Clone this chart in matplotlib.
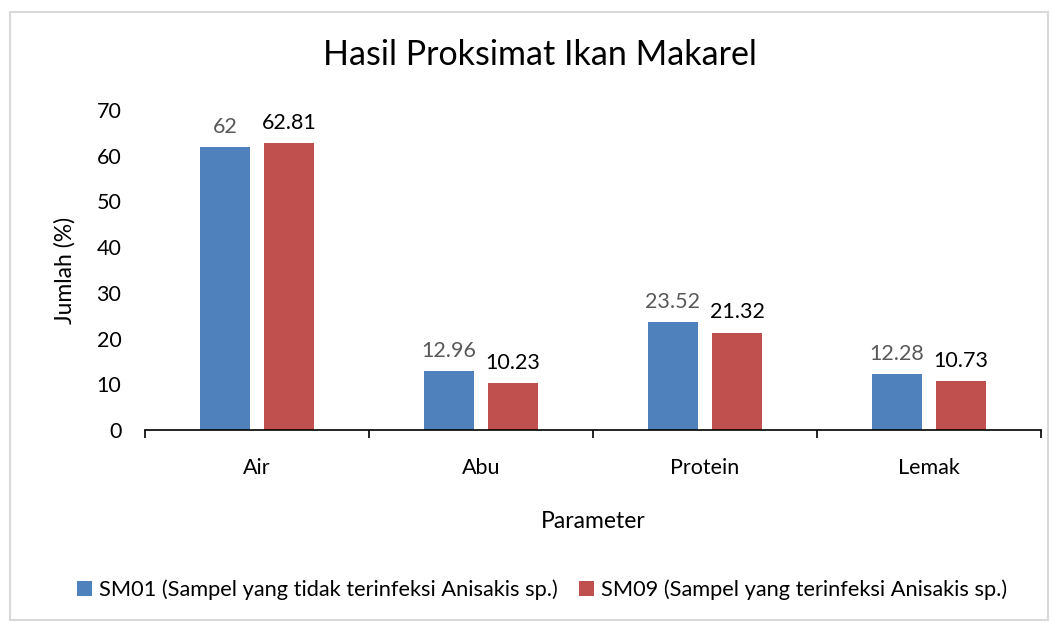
import numpy as np
import matplotlib.pyplot as plt
from matplotlib.patches import Rectangle

plt.rcParams['font.family'] = ['Lato', 'DejaVu Sans']

kategori = ['Air', 'Abu', 'Protein', 'Lemak']
sm01 = [62, 12.96, 23.52, 12.28]
sm09 = [62.81, 10.23, 21.32, 10.73]
label01 = ['62', '12.96', '23.52', '12.28']
label09 = ['62.81', '10.23', '21.32', '10.73']

fig = plt.figure(figsize=(10.53, 6.23), dpi=100)
fig.patches.append(Rectangle((10 / 1053, 3 / 623), 1038 / 1053, 608 / 623,
                             transform=fig.transFigure, fill=False,
                             edgecolor='#d9d9d9', linewidth=1.5))
ax = fig.add_axes([145 / 1053, 1 - 430 / 623, 896 / 1053, 320 / 623])

x = np.arange(len(kategori))
w = 0.223
b1 = ax.bar(x - 0.143, sm01, w, color='#4F81BD')
b2 = ax.bar(x + 0.143, sm09, w, color='#C0504D')

for r, t in zip(b1, label01):
    ax.text(r.get_x() + r.get_width() / 2, r.get_height() + 2.2, t,
            ha='center', va='bottom', fontsize=15.5, color='#595959')
for r, t in zip(b2, label09):
    ax.text(r.get_x() + r.get_width() / 2, r.get_height() + 2.2, t,
            ha='center', va='bottom', fontsize=15.5, color='black')

ax.set_xlim(-0.5, 3.5)
ax.set_ylim(0, 70)
ax.set_yticks(range(0, 71, 10))
ax.set_xticks(x)
ax.set_xticklabels(kategori)
ax.set_xticks(np.arange(-0.5, 3.6, 1), minor=True)
ax.tick_params(axis='x', which='major', length=0, pad=20, labelsize=15.5)
ax.tick_params(axis='x', which='minor', length=6, width=1.2, direction='out')
ax.tick_params(axis='y', length=0, pad=17, labelsize=15.5)

for s in ['top', 'right', 'left']:
    ax.spines[s].set_visible(False)
ax.spines['bottom'].set_linewidth(1.2)

# judul dan legenda di tengah gambar, bukan di tengah sumbu
fig.text(540 / 1053, 1 - 55 / 623, 'Hasil Proksimat Ikan Makarel',
         ha='center', va='center', fontsize=24.5)
ax.set_xlabel('Parameter', fontsize=16.5, labelpad=24)
ax.set_ylabel('Jumlah (%)', fontsize=16.5, labelpad=15)

fig.legend([b1, b2], ['SM01 (Sampel yang tidak terinfeksi Anisakis sp.)',
                      'SM09 (Sampel yang terinfeksi Anisakis sp.)'],
           loc='center', bbox_to_anchor=(542 / 1053, 1 - 590 / 623), ncol=2,
           frameon=False, fontsize=15.7, handlelength=0.7, handleheight=0.7,
           handletextpad=0.3, columnspacing=1.0)

fig.savefig('out.png', dpi=100)
